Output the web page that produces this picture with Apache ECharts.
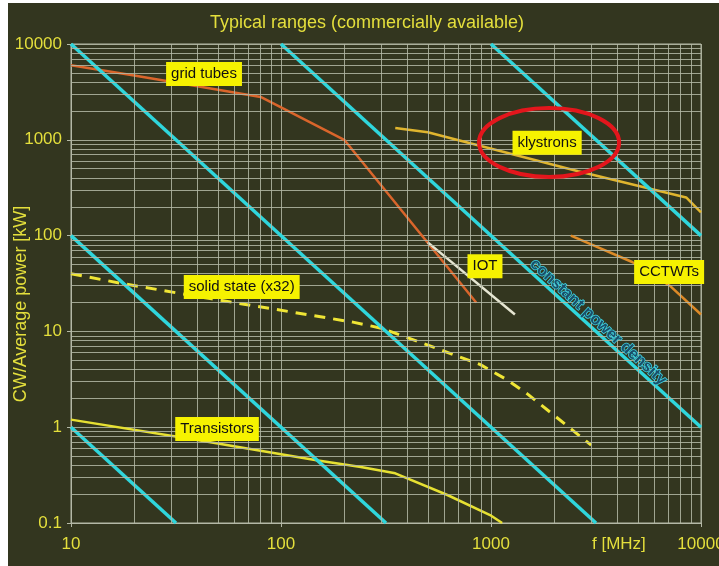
<!DOCTYPE html>
<html>
<head>
<meta charset="utf-8">
<script src="https://cdn.jsdelivr.net/npm/echarts@6/dist/echarts.min.js"></script>
<style>
  html, body { margin: 0; padding: 0; background: #ffffff; }
  #chart { width: 719px; height: 566px; }
</style>
</head>
<body>
<div id="chart"></div>
<script>
// Frequency (MHz) and CW/average power (kW) for each device family
const gridTubesF = [10, 20, 80, 200, 850];
const gridTubesP = [6000, 4700, 2800, 1000, 20];

const klystronsF = [350, 500, 2600, 8500, 10000];
const klystronsP = [1330, 1200, 470, 250, 175];

const iotF = [500, 1300];
const iotP = [85, 15];

const cctwtF = [2400, 4700, 7100, 10000];
const cctwtP = [100, 53, 30, 15];

const solidStateF = [10, 17, 46, 220, 300, 460, 890, 1200, 1500, 3000];
const solidStateP = [40, 32, 22, 12.5, 10.8, 7.7, 4.5, 3.1, 2.2, 0.65];

const transistorF = [10, 38, 150, 240, 350, 620, 990, 1130];
const transistorP = [1.2, 0.75, 0.45, 0.385, 0.33, 0.196, 0.121, 0.1];

// Constant power density lines (P ~ 1/f^2), endpoints within the plot
const densityLines = [
  [[10, 1], [31.62, 0.1]],
  [[10, 100], [316.2, 0.1]],
  [[10, 10000], [3162, 0.1]],
  [[100, 10000], [10000, 1]],
  [[1000, 10000], [10000, 100]]
];

// Callout labels: text, frequency, power
const calloutText = ['grid tubes', 'klystrons', 'solid state (x32)', 'IOT', 'CCTWTs', 'Transistors'];
const calloutF = [43, 1850, 65, 936, 7050, 49.6];
const calloutP = [4860, 930, 29, 48, 41.7, 0.96];

// Annotation along a density line
const densityNote = 'constant power density';
const densityNoteF = 3236;
const densityNoteP = 12.5;

// Highlight ring around the klystron range: [fMin, pMin, fMax, pMax]
const ringBox = [877, 409, 4074, 2147];

// Axis ticks and minor grid positions
const xMajor = [10, 100, 1000, 10000];
const yMajor = [0.1, 1, 10, 100, 1000, 10000];
const minorSteps = [2, 3, 4, 5, 6, 7, 8, 9];

const xMinor = [];
[10, 100, 1000].forEach(d => minorSteps.forEach(s => xMinor.push(d * s)));
const yMinor = [];
[0.1, 1, 10, 100, 1000].forEach(d => minorSteps.forEach(s => yMinor.push(+(d * s).toPrecision(3))));

const pair = (fs, ps) => fs.map((f, i) => [f, ps[i]]);

const YELLOW = '#e4df3c';
const GRIDC = '#b4b8a6';
const FONT = 'Liberation Sans, Arial, sans-serif';

const chart = echarts.init(document.getElementById('chart'), null, { renderer: 'canvas' });

const series = [];

// minor grid lines
series.push({
  type: 'line', data: [], silent: true, z: 1,
  markLine: {
    silent: true, symbol: 'none', label: { show: false },
    lineStyle: { color: GRIDC, width: 1, type: 'solid', opacity: 0.85 },
    animation: false,
    data: xMinor.map(v => ({ xAxis: v })).concat(yMinor.map(v => ({ yAxis: v })))
  }
});

const curve = (name, f, p, color, width, dashed) => ({
  name, type: 'line', data: pair(f, p), showSymbol: false, symbol: 'none',
  lineStyle: { color, width, type: dashed ? [11, 8] : 'solid', cap: 'butt' },
  z: 3, animation: false
});

series.push(curve('grid tubes', gridTubesF, gridTubesP, '#d9652b', 2.5));
series.push(curve('klystrons', klystronsF, klystronsP, '#e0b52e', 2.5));
series.push(curve('IOT', iotF, iotP, '#e6e6d2', 2.5));
series.push(curve('CCTWTs', cctwtF, cctwtP, '#dd8a27', 2.5));
series.push(curve('solid state', solidStateF, solidStateP, '#efe535', 3, true));
series.push(curve('transistors', transistorF, transistorP, '#e6e032', 2.5));

densityLines.forEach((seg, i) => {
  series.push({
    name: 'density' + i, type: 'line', data: seg, showSymbol: false, symbol: 'none',
    lineStyle: { color: '#2fd6dc', width: 3.5 }, z: 4, animation: false
  });
});

// highlight ring
series.push({
  type: 'custom', z: 6, animation: false, silent: true,
  data: [ringBox],
  renderItem: (params, api) => {
    const a = api.coord([api.value(0), api.value(1)]);
    const b = api.coord([api.value(2), api.value(3)]);
    return {
      type: 'ellipse',
      shape: { cx: (a[0] + b[0]) / 2, cy: (a[1] + b[1]) / 2, rx: Math.abs(b[0] - a[0]) / 2, ry: Math.abs(b[1] - a[1]) / 2 },
      style: { fill: null, stroke: '#e3161c', lineWidth: 4 }
    };
  }
});

// callout boxes
series.push({
  type: 'custom', z: 8, animation: false, silent: true,
  data: calloutText.map((t, i) => [calloutF[i], calloutP[i]]),
  renderItem: (params, api) => {
    const c = api.coord([api.value(0), api.value(1)]);
    return {
      type: 'text', x: c[0], y: c[1],
      style: {
        text: calloutText[params.dataIndex], fill: '#111', font: '15px ' + FONT,
        align: 'center', verticalAlign: 'middle',
        backgroundColor: '#f6f200', padding: [5, 5, 4, 5]
      }
    };
  }
});

// density annotation
series.push({
  type: 'custom', z: 8, animation: false, silent: true,
  data: [[densityNoteF, densityNoteP]],
  renderItem: (params, api) => {
    const c = api.coord([api.value(0), api.value(1)]);
    return {
      type: 'text', x: c[0], y: c[1], rotation: -42.5 * Math.PI / 180,
      style: {
        text: densityNote, fill: '#1b4f6a', font: 'bold 16px ' + FONT,
        align: 'center', verticalAlign: 'middle',
        stroke: '#3fd4e2', lineWidth: 1.5
      }
    };
  }
});

chart.setOption({
  backgroundColor: '#ffffff',
  animation: false,
  graphic: [
    { type: 'rect', left: 8, top: 3, z: -10, shape: { width: 711, height: 563 }, style: { fill: '#33361f' } },
    { type: 'text', left: 592, top: 536, z: 10,
      style: { text: 'f [MHz]', fill: YELLOW, font: '17px ' + FONT } },
    { type: 'text', x: 21, y: 304, rotation: Math.PI / 2, z: 10,
      style: { text: 'CW/Average power [kW]', fill: YELLOW, font: '18px ' + FONT, align: 'center', verticalAlign: 'middle' } }
  ],
  title: {
    text: 'Typical ranges (commercially available)',
    left: 367, top: 14, textAlign: 'center', padding: 0,
    textStyle: { color: YELLOW, fontSize: 18, fontWeight: 'normal', fontFamily: FONT }
  },
  grid: { left: 71, right: 18, top: 44, bottom: 43, outerBoundsMode: 'none', containLabel: false,
    show: true, borderColor: '#b4b8a6', borderWidth: 1, backgroundColor: 'transparent' },
  xAxis: {
    type: 'log', logBase: 10, min: 10, max: 10000,
    axisLine: { show: true, lineStyle: { color: '#b4b8a6' } },
    axisTick: { show: true, length: 4, lineStyle: { color: '#b4b8a6' } },
    axisLabel: { color: YELLOW, fontSize: 17, fontFamily: FONT, margin: 13, hideOverlap: false,
      formatter: v => String(xMajor.find(t => Math.abs(Math.log10(t) - Math.log10(v)) < 1e-6) ?? v) },
    splitLine: { show: true, lineStyle: { color: GRIDC, width: 1, opacity: 0.85 } }
  },
  yAxis: {
    type: 'log', logBase: 10, min: 0.1, max: 10000,
    axisLine: { show: true, lineStyle: { color: '#b4b8a6' } },
    axisTick: { show: true, length: 4, lineStyle: { color: '#b4b8a6' } },
    axisLabel: { color: YELLOW, fontSize: 17, fontFamily: FONT, margin: 9,
      formatter: v => String(yMajor.find(t => Math.abs(Math.log10(t) - Math.log10(v)) < 1e-6) ?? v) },
    splitLine: { show: true, lineStyle: { color: GRIDC, width: 1, opacity: 0.85 } }
  },
  series
});
</script>
</body>
</html>
